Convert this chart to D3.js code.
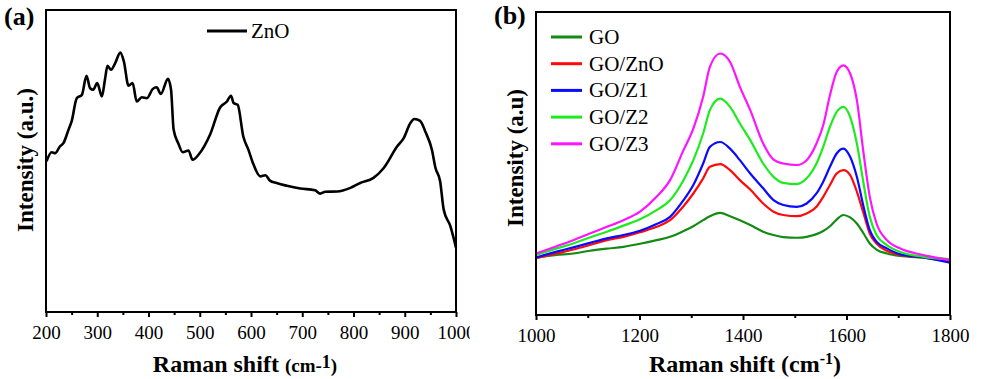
<!DOCTYPE html>
<html><head><meta charset="utf-8">
<script src="https://cdn.jsdelivr.net/npm/d3@7/dist/d3.min.js"></script>
</head><body style="margin:0;background:#fff">
<svg id="c" width="982" height="379" style="display:block"></svg>
<script>
// ---- Panel (a): ZnO Raman spectrum ----
const znoShift = [201,211,218,227,234,244,250,260,270,279,286,292,300,309,315,320,327,335,345,352,361,369,377,387,397,408,416,424,438,444,449,458,467,478,486,499,520,540,553,561,566,574,585,595,605,618,628,637,650,670,696,725,735,745,768,794,813,839,859,885,898,911,919,930,940,953,960,969,976,989,1000];
const znoInt = [49.9,52.9,52.6,54.8,55.9,60.4,63.1,70.8,71.9,78.2,74.1,73.6,75.8,71.4,76.9,81.5,80.2,82.4,85.9,82.9,74.9,75.8,69.7,71.1,70.8,73.8,74.4,72.2,77.2,73.6,60.4,55.9,52.9,53.5,50.4,52.4,58.7,67.8,69.7,71.6,69.2,68.6,58.1,53.7,48.8,44.9,45.3,43.5,42.7,41.8,40.9,40.3,39.2,39.8,39.9,41.1,42.7,44.4,47.7,54.8,57.6,62.6,63.9,63.3,59.8,53.7,47.7,43.3,33.9,28.4,21.3];
const aTicks = [200,300,400,500,600,700,800,900,1000];
const aMinor = [250,350,450,550,650,750,850,950];

// ---- Panel (b): GO composites ----
const goShift = [1000,1040,1072,1104,1137,1169,1201,1233,1259,1285,1304,1323,1336,1356,1375,1394,1414,1439,1459,1478,1504,1523,1542,1555,1568,1581,1594,1607,1620,1633,1645,1658,1678,1703,1748,1800];
const seriesNames = ["GO","GO/ZnO","GO/Z1","GO/Z2","GO/Z3"];
const seriesColors = ["#138a13","#ff0a0a","#0a0aff","#1eeb1e","#ff14ff"];
const GO = [19.0,19.8,20.3,21.2,21.9,22.5,23.5,24.7,25.8,27.7,29.3,31.3,32.6,33.7,32.6,31.3,29.7,27.5,26.4,25.7,25.5,25.8,26.7,27.7,29.3,31.5,33.0,32.2,30.2,26.9,23.6,21.6,20.3,19.5,19.0,18.4];
const GO_ZnO = [18.7,20.3,21.6,23.1,24.7,25.8,27.3,29.1,31.3,35.9,40.1,45.1,48.9,49.8,47.8,44.5,41.4,36.8,34.1,33.0,32.6,33.5,35.7,39.0,42.9,46.7,47.8,46.2,40.7,33.5,26.9,23.6,21.2,19.8,19.0,17.6];
const GO_Z1 = [19.0,20.9,22.3,23.8,25.3,26.4,27.8,30.0,32.4,37.9,42.9,50.0,55.5,57.1,54.9,51.1,46.7,41.8,37.9,36.3,35.7,36.8,40.1,44.0,48.9,53.3,54.9,52.2,45.6,35.7,28.0,24.2,22.0,20.1,19.0,17.3];
const GO_Z2 = [19.8,22.0,23.6,25.6,27.5,29.5,31.6,34.6,37.9,44.5,51.1,59.9,67.6,71.4,68.7,63.2,57.7,50.0,45.6,43.6,43.2,45.1,50.0,55.5,62.1,67.0,68.7,65.4,56.6,43.4,32.4,26.4,23.1,20.9,19.2,18.4];
const GO_Z3 = [20.3,22.7,24.7,26.9,29.1,31.3,34.1,39.0,44.5,54.4,61.5,72.0,81.9,86.3,83.5,75.3,67.6,56.6,51.3,50.0,49.5,51.1,56.6,62.6,72.5,80.2,82.4,79.7,70.9,53.3,39.0,30.2,24.7,22.0,19.8,18.1];
const bSeries = [GO, GO_ZnO, GO_Z1, GO_Z2, GO_Z3];
const bTicks = [1000,1200,1400,1600,1800];
const bMinor = [1100,1300,1500,1700];

const FONT = '"Liberation Serif"';
const svg = d3.select("#c");
svg.append("defs").append("clipPath").attr("id","clipA")
  .append("rect").attr("x",0).attr("y",0).attr("width",470).attr("height",379);

function txt(sel, x, y, size, bold){
  return sel.append("text").attr("x",x).attr("y",y)
    .style("font-family",FONT).style("font-size",size+"px")
    .style("font-weight",bold?"bold":"normal").attr("fill","#000");
}

function panel(cfg){
  const g = svg.append("g");
  if (cfg.clip) g.attr("clip-path",`url(#${cfg.clip})`);
  const x = d3.scaleLinear().domain(cfg.xdom).range([cfg.left, cfg.right]);
  const y = d3.scaleLinear().domain([0,100]).range([cfg.bottom, cfg.top]);
  const line = d3.line().x(d=>x(d[0])).y(d=>y(d[1])).curve(d3.curveMonotoneX);
  cfg.series.forEach(s=>{
    g.append("path").datum(s.xs.map((v,i)=>[v,s.ys[i]]))
      .attr("d", line).attr("fill","none").attr("stroke", s.color)
      .attr("stroke-width", cfg.lw).attr("stroke-linejoin","round");
  });
  g.append("rect").attr("x",cfg.left).attr("y",cfg.top)
    .attr("width",cfg.right-cfg.left).attr("height",cfg.bottom-cfg.top)
    .attr("fill","none").attr("stroke","#000").attr("stroke-width",2);
  const ax = g.append("g").attr("transform",`translate(0,${cfg.bottom})`)
    .call(d3.axisBottom(x).tickValues(cfg.ticks).tickFormat(d3.format("d")).tickSize(5).tickPadding(9));
  ax.select(".domain").remove();
  ax.selectAll(".tick line").attr("stroke-width",2);
  ax.selectAll(".tick text").style("font-family",FONT).style("font-size","19px").attr("fill","#000");
  const mx = g.append("g").attr("transform",`translate(0,${cfg.bottom})`)
    .call(d3.axisBottom(x).tickValues(cfg.minor).tickFormat("").tickSize(3));
  mx.select(".domain").remove();
  mx.selectAll(".tick line").attr("stroke-width",2);
  return {g,x,y};
}

// Panel (a)
const pa = panel({left:46,right:456,top:10,bottom:312,xdom:[200,1000],ticks:aTicks,minor:aMinor,lw:2.6,clip:"clipA",
  series:[{xs:znoShift, ys:znoInt, color:"#000"}]});
pa.g.append("line").attr("x1",207).attr("x2",247).attr("y1",31).attr("y2",31).attr("stroke","#000").attr("stroke-width",3);
txt(pa.g,251,38,21,false).text("ZnO");
txt(svg,4,25,26,true).text("(a)");
const ta = txt(svg,245,372,24,true).attr("text-anchor","middle");
ta.append("tspan").text("Raman shift ");
ta.append("tspan").style("font-size","19px").text("(cm-");
ta.append("tspan").style("font-size","18px").attr("dy",-4).text("1");
ta.append("tspan").style("font-size","19px").attr("dy",4).text(")");
txt(svg,0,0,23,true).attr("transform","translate(33,160) rotate(-90)").attr("text-anchor","middle").text("Intensity (a.u.)");

// Panel (b)
const pb = panel({left:536,right:950,top:12,bottom:315,xdom:[1000,1800],ticks:bTicks,minor:bMinor,lw:2.2,
  series:bSeries.map((s,i)=>({xs:goShift, ys:s, color:seriesColors[i]}))});
seriesNames.forEach((n,i)=>{
  const yy = 37 + i*26.7;
  pb.g.append("line").attr("x1",551).attr("x2",582).attr("y1",yy).attr("y2",yy).attr("stroke",seriesColors[i]).attr("stroke-width",3);
  txt(pb.g,589,yy+7,21,false).text(n);
});
txt(svg,494,24,26,true).text("(b)");
const tb = txt(svg,745,372,24,true).attr("text-anchor","middle");
tb.append("tspan").text("Raman shift (cm");
tb.append("tspan").style("font-size","16px").attr("dy",-8).text("-1");
tb.append("tspan").attr("dy",8).text(")");
txt(svg,0,0,23,true).attr("transform","translate(523,158) rotate(-90)").attr("text-anchor","middle").text("Intensity (a.u)");
</script>
</body></html>
